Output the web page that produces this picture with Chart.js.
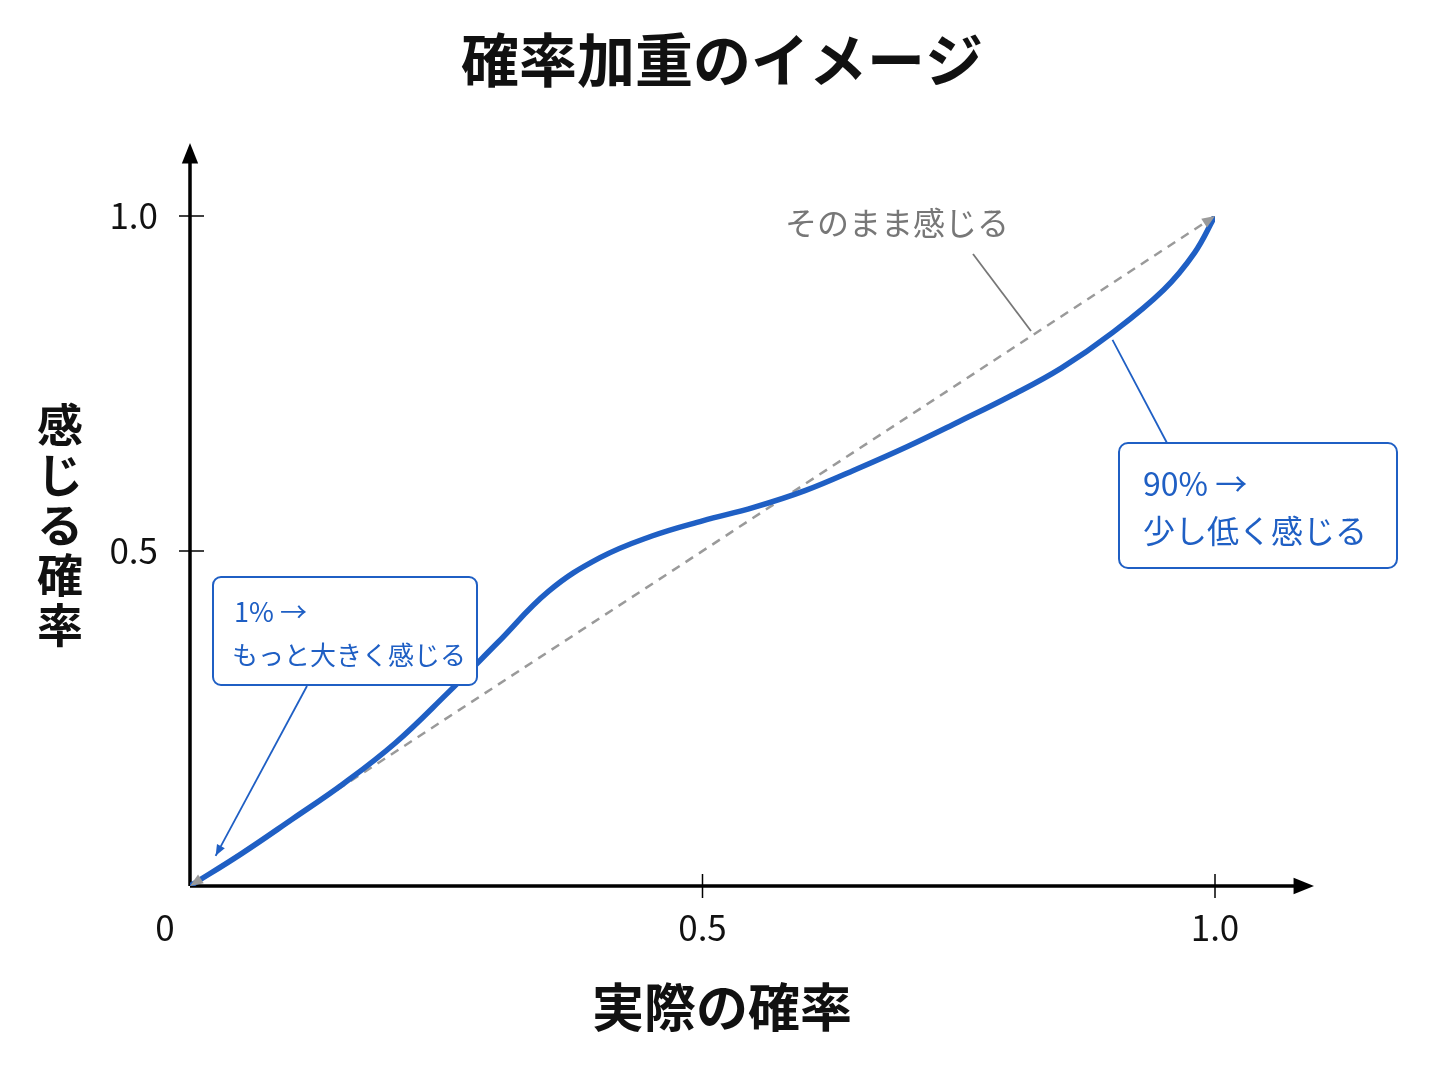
<!DOCTYPE html>
<html lang="ja">
<head>
<meta charset="utf-8">
<title>確率加重のイメージ</title>
<script src="https://cdn.jsdelivr.net/npm/chart.js@4.4.1/dist/chart.umd.min.js"></script>
<style>
  html, body { margin: 0; padding: 0; background: #fff; }
  #wrap { width: 1448px; height: 1086px; }
</style>
</head>
<body>
<div id="wrap"><canvas id="chart" width="1448" height="1086"></canvas></div>
<script>
// data
const actualProb = [0, 0.05, 0.10, 0.15, 0.20, 0.25, 0.30, 0.35, 0.40, 0.45, 0.50, 0.55, 0.60, 0.65, 0.70, 0.75, 0.80, 0.85, 0.90, 0.95, 0.98, 1.0];
const feltProb   = [0, 0.048, 0.100, 0.153, 0.213, 0.286, 0.363, 0.440, 0.490, 0.522, 0.545, 0.565, 0.590, 0.622, 0.656, 0.693, 0.731, 0.773, 0.826, 0.890, 0.945, 1.0];
const diagonalX = [0, 1];
const diagonalY = [0, 1];
const xTicks = [0, 0.5, 1.0];
const xTickLabels = ['0', '0.5', '1.0'];
const yTicks = [0.5, 1.0];
const yTickLabels = ['0.5', '1.0'];

const FONT = '"Noto Sans CJK JP", "Noto Sans", sans-serif';
const BLUE = '#1f5fc4';
const GRAY = '#9a9a9a';

function arrowHead(ctx, x1, y1, x2, y2, size, color) {
    const a = Math.atan2(y2 - y1, x2 - x1);
    ctx.save();
    ctx.fillStyle = color;
    ctx.beginPath();
    ctx.moveTo(x2, y2);
    ctx.lineTo(x2 - size * Math.cos(a - 0.38), y2 - size * Math.sin(a - 0.38));
    ctx.lineTo(x2 - size * Math.cos(a + 0.38), y2 - size * Math.sin(a + 0.38));
    ctx.closePath();
    ctx.fill();
    ctx.restore();
}

function roundBox(ctx, x, y, w, h, r) {
    ctx.beginPath();
    ctx.roundRect(x, y, w, h, r);
    ctx.fillStyle = '#fff';
    ctx.fill();
    ctx.strokeStyle = BLUE;
    ctx.lineWidth = 2;
    ctx.stroke();
}

// Axes with arrows, ticks, labels and the callouts
const axesPlugin = {
    id: 'axes',
    beforeDatasetsDraw(chart) {
        const { ctx, scales: { x, y } } = chart;
        const x0 = x.getPixelForValue(0), y0 = y.getPixelForValue(0);
        ctx.save();
        // title
        ctx.fillStyle = '#111';
        ctx.font = 'bold 58px ' + FONT;
        ctx.textAlign = 'center';
        ctx.textBaseline = 'middle';
        ctx.fillText('確率加重のイメージ', 722, 60);

        ctx.strokeStyle = '#000';
        ctx.lineWidth = 3.5;
        ctx.beginPath();
        ctx.moveTo(x0, y0);
        ctx.lineTo(1300, y0);
        ctx.moveTo(x0, y0);
        ctx.lineTo(x0, 158);
        ctx.stroke();
        arrowHead(ctx, x0, y0, 1314, y0, 22, '#000');
        arrowHead(ctx, x0, y0, x0, 143, 22, '#000');

        ctx.lineWidth = 1.5;
        ctx.font = '35px ' + FONT;
        xTicks.forEach((v, i) => {
            const px = x.getPixelForValue(v);
            if (v !== 0) {
                ctx.beginPath();
                ctx.moveTo(px, y0 - 12);
                ctx.lineTo(px, y0 + 12);
                ctx.stroke();
            }
            ctx.textAlign = 'center';
            ctx.fillText(xTickLabels[i], v === 0 ? px - 25 : px, 928);
        });
        yTicks.forEach((v, i) => {
            const py = y.getPixelForValue(v);
            ctx.beginPath();
            ctx.moveTo(x0 - 11, py);
            ctx.lineTo(x0 + 14, py);
            ctx.stroke();
            ctx.textAlign = 'right';
            ctx.fillText(yTickLabels[i], 158, py);
        });

        // axis titles
        ctx.font = 'bold 52px ' + FONT;
        ctx.textAlign = 'center';
        ctx.fillText('実際の確率', 722, 1007);
        ctx.font = 'bold 46px ' + FONT;
        ['感', 'じ', 'る', '確', '率'].forEach((c, i) => {
            ctx.fillText(c, 60, 425 + i * 50);
        });
        ctx.restore();
    },
    afterDatasetsDraw(chart) {
        const { ctx, scales: { x, y } } = chart;
        ctx.save();
        // arrowheads of the diagonal
        arrowHead(ctx, x.getPixelForValue(0.05), y.getPixelForValue(0.05), x.getPixelForValue(0), y.getPixelForValue(0), 14, GRAY);
        arrowHead(ctx, x.getPixelForValue(0.95), y.getPixelForValue(0.95), x.getPixelForValue(1), y.getPixelForValue(1), 14, GRAY);

        // そのまま感じる
        ctx.fillStyle = '#777';
        ctx.font = '32px ' + FONT;
        ctx.textAlign = 'center';
        ctx.textBaseline = 'middle';
        ctx.fillText('そのまま感じる', 897, 223);
        ctx.strokeStyle = '#777';
        ctx.lineWidth = 1.8;
        ctx.beginPath();
        ctx.moveTo(973, 254);
        ctx.lineTo(1031, 331);
        ctx.stroke();

        // 1% box
        ctx.strokeStyle = BLUE;
        ctx.lineWidth = 1.8;
        const t1 = { x: x.getPixelForValue(0.025), y: y.getPixelForValue(0.045) };
        ctx.beginPath();
        ctx.moveTo(307, 686);
        ctx.lineTo(t1.x, t1.y);
        ctx.stroke();
        arrowHead(ctx, 307, 686, t1.x, t1.y, 12, BLUE);
        roundBox(ctx, 213, 577, 264, 108, 8);
        ctx.fillStyle = BLUE;
        ctx.textAlign = 'left';
        ctx.font = '27px ' + FONT;
        ctx.fillText('1% →', 234, 612);
        ctx.font = '26px ' + FONT;
        ctx.fillText('もっと大きく感じる', 232, 655);

        // 90% box
        const t2 = { x: x.getPixelForValue(0.9), y: y.getPixelForValue(0.815) };
        ctx.strokeStyle = BLUE;
        ctx.lineWidth = 1.8;
        ctx.beginPath();
        ctx.moveTo(1167, 443);
        ctx.lineTo(t2.x, t2.y);
        ctx.stroke();
        roundBox(ctx, 1119, 443, 278, 125, 9);
        ctx.fillStyle = BLUE;
        ctx.font = '32px ' + FONT;
        ctx.fillText('90% →', 1143, 484);
        ctx.fillText('少し低く感じる', 1143, 531);
        ctx.restore();
    }
};

const ctx = document.getElementById('chart').getContext('2d');
new Chart(ctx, {
    type: 'line',
    data: {
        datasets: [
            {
                label: 'そのまま感じる',
                data: diagonalX.map((v, i) => ({ x: v, y: diagonalY[i] })),
                borderColor: GRAY,
                borderWidth: 2.5,
                borderDash: [9, 7],
                pointRadius: 0,
                order: 2
            },
            {
                label: '感じる確率',
                data: actualProb.map((v, i) => ({ x: v, y: feltProb[i] })),
                borderColor: BLUE,
                borderWidth: 5.5,
                pointRadius: 0,
                tension: 0.4,
                borderCapStyle: 'round',
                order: 1
            }
        ]
    },
    options: {
        responsive: false,
        animation: false,
        devicePixelRatio: 1,
        layout: { padding: { left: 190, right: 233, top: 216, bottom: 200 } },
        plugins: {
            legend: { display: false },
            tooltip: { enabled: false },
            title: { display: false }
        },
        scales: {
            x: { type: 'linear', min: 0, max: 1, display: false },
            y: { type: 'linear', min: 0, max: 1, display: false }
        }
    },
    plugins: [axesPlugin]
});
</script>
</body>
</html>
